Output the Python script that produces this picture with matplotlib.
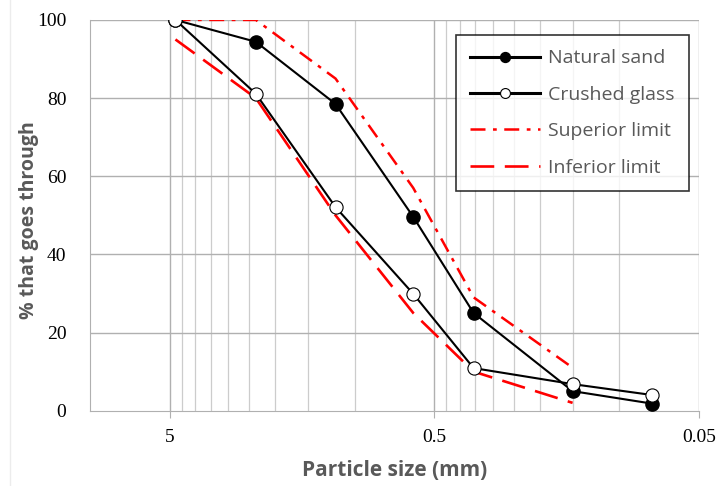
import numpy as np
import matplotlib
matplotlib.use("Agg")
import matplotlib.pyplot as plt
from matplotlib.lines import Line2D

# sieve sizes (mm)
sizes = [4.75, 2.36, 1.18, 0.6, 0.355, 0.15, 0.075]
natural_sand = [100, 94.4, 78.5, 49.6, 25.0, 5.0, 1.8]
crushed_glass = [100, 81.1, 52.1, 29.9, 10.9, 6.8, 4.0]

limit_sizes = [4.75, 2.36, 1.18, 0.6, 0.355, 0.15]
superior_limit = [100, 100, 85, 57, 29, 11]
inferior_limit = [95, 80, 50, 25, 10, 2]

xticks = [5, 0.5, 0.05]
xtick_labels = ["5", "0.5", "0.05"]
yticks = [0, 20, 40, 60, 80, 100]
minor_grid = [4.5, 4, 3.5, 3, 2.5, 2, 1.5, 1,
              0.45, 0.4, 0.35, 0.3, 0.25, 0.2, 0.15, 0.1]

grey = "#b0b0b0"
label_grey = "#595959"
sans = ["Open Sans", "DejaVu Sans"]
serif = ["Liberation Serif", "DejaVu Serif"]

fig = plt.figure(figsize=(7.19, 4.86), dpi=100)
ax = fig.add_axes([0.125, 0.155, 0.847, 0.804])

# faint border line at the left of the image
fig.add_artist(Line2D([0.014, 0.014], [0, 1], color="#ececec", lw=1))

ax.set_xscale("log")
ax.set_xlim(10, 0.05)
ax.set_ylim(0, 100)

# grid
for v in minor_grid:
    ax.axvline(v, color="#cccccc", lw=0.9, zorder=0)
for v in xticks:
    ax.axvline(v, color=grey, lw=1.0, zorder=0)
for v in yticks[1:]:
    ax.axhline(v, color=grey, lw=1.0, zorder=0)

ax.plot(limit_sizes, superior_limit, color="red", lw=1.8,
        dashes=[6, 3, 1.5, 3], label="Superior limit", zorder=2)
ax.plot(limit_sizes, inferior_limit, color="red", lw=1.9,
        dashes=[9, 4], label="Inferior limit", zorder=2)
ax.plot(sizes, natural_sand, color="black", lw=1.5, marker="o",
        ms=9.5, mfc="black", mec="black", label="Natural sand", zorder=3)
ax.plot(sizes, crushed_glass, color="black", lw=1.5, marker="o",
        ms=9.5, mfc="white", mec="black", mew=0.8, label="Crushed glass", zorder=3)

for s in ["top", "right"]:
    ax.spines[s].set_visible(False)
ax.spines["bottom"].set_color(grey)
ax.spines["left"].set_color(grey)

ax.xaxis.set_minor_locator(matplotlib.ticker.NullLocator())
ax.set_xticks(xticks)
ax.set_xticklabels(xtick_labels, fontfamily=serif, fontsize=14)
ax.set_yticks(yticks)
ax.set_yticklabels([str(v) for v in yticks], fontfamily=serif, fontsize=14)
ax.tick_params(axis="x", length=5, color=grey, pad=8)
ax.tick_params(axis="y", length=0, pad=17)

ax.set_xlabel("Particle size (mm)", fontfamily=sans, fontsize=15,
              fontweight="bold", color=label_grey)
ax.set_ylabel("% that goes through", fontfamily=sans, fontsize=14,
              fontweight="bold", color=label_grey)
ax.xaxis.set_label_coords(0.5, -0.125)
ax.yaxis.set_label_coords(-0.083, 0.488)

handles, labels = ax.get_legend_handles_labels()
order = [2, 3, 0, 1]
leg = ax.legend([handles[i] for i in order], [labels[i] for i in order],
                loc="upper right", bbox_to_anchor=(0.984, 0.962),
                frameon=True, fancybox=False, edgecolor="black",
                prop={"family": sans, "size": 14}, labelcolor=label_grey,
                handlelength=3.6, handletextpad=0.4, labelspacing=0.95,
                borderpad=0.75, borderaxespad=0, markerscale=0.75)
leg.get_frame().set_linewidth(1.2)
for line in leg.get_lines()[:2]:
    line.set_linewidth(2.2)

fig.savefig("out.png", dpi=100)
